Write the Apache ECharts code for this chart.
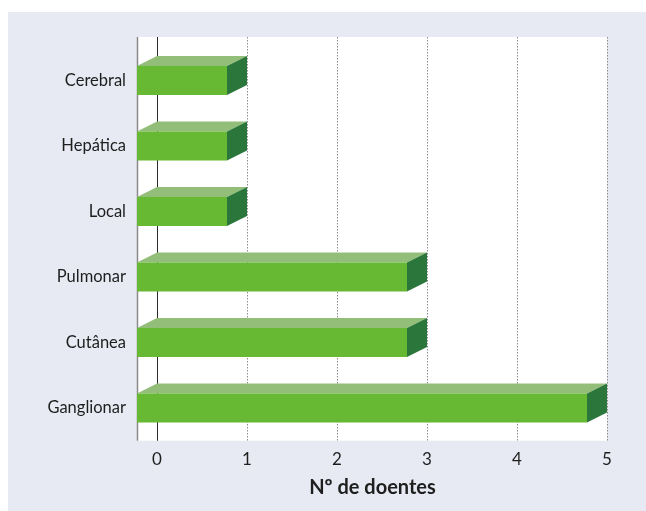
<!DOCTYPE html>
<html>
<head>
<meta charset="utf-8">
<script src="https://cdn.jsdelivr.net/npm/echarts@6/dist/echarts.min.js"></script>
<style>
  html, body { margin: 0; padding: 0; background: #ffffff; }
  #chart { width: 646px; height: 511px; }
</style>
</head>
<body>
<div id="chart"></div>
<script>
// Localização das metástases — número de doentes
const categories = ['Cerebral', 'Hepática', 'Local', 'Pulmonar', 'Cutânea', 'Ganglionar'];
const patients = [1, 1, 1, 3, 3, 5];
const xTicks = [0, 1, 2, 3, 4, 5];

// 3D extrusion of each bar (front face shifted left/down from the back)
const DEPTH_X = 20;
const DEPTH_Y = 10;
const FACE_H = 29;

const COLOR_FRONT = '#67b832';
const COLOR_TOP = '#93be7a';
const COLOR_SIDE = '#2b763a';

const chart = echarts.init(document.getElementById('chart'), null, { renderer: 'canvas' });

function renderFrame(params, api) {
  const cs = params.coordSys;
  const x0 = api.coord([0, 0])[0];
  const top = cs.y - DEPTH_Y - 0.75;
  const bottom = cs.y + cs.height;
  const children = [{
    type: 'rect',
    shape: { x: x0 - DEPTH_X, y: top, width: cs.x + cs.width - (x0 - DEPTH_X), height: bottom - top },
    style: { fill: '#ffffff' }
  }, {
    type: 'line',
    shape: { x1: x0 - DEPTH_X + 0.5, y1: top, x2: x0 - DEPTH_X + 0.5, y2: bottom },
    style: { stroke: '#8a8a8a', lineWidth: 1.5 }
  }];
  xTicks.forEach(function (t) {
    const x = Math.round(api.coord([t, 0])[0]) + 0.5;
    children.push({
      type: 'line',
      shape: { x1: x, y1: top, x2: x, y2: bottom },
      style: t === 0
        ? { stroke: '#2a2a2a', lineWidth: 1 }
        : { stroke: '#8c8c8c', lineWidth: 1, lineDash: [1.5, 1.5] }
    });
  });
  return { type: 'group', children: children };
}

function renderBar(params, api) {
  const v = api.value(0);
  const idx = api.value(1);
  const p0 = api.coord([0, idx]);
  const pv = api.coord([v, idx]);
  const xb0 = p0[0], xbv = pv[0];
  const yc = p0[1];
  const xf0 = xb0 - DEPTH_X, xfv = xbv - DEPTH_X;
  const yt = yc - FACE_H / 2, yb = yc + FACE_H / 2;
  return {
    type: 'group',
    children: [{
      type: 'polygon',
      shape: { points: [[xf0, yt], [xb0, yt - DEPTH_Y], [xbv, yt - DEPTH_Y], [xfv, yt]] },
      style: { fill: COLOR_TOP }
    }, {
      type: 'polygon',
      shape: { points: [[xfv, yt], [xbv, yt - DEPTH_Y], [xbv, yb - DEPTH_Y], [xfv, yb]] },
      style: { fill: COLOR_SIDE }
    }, {
      type: 'rect',
      shape: { x: xf0, y: yt, width: xfv - xf0, height: FACE_H },
      style: { fill: COLOR_FRONT }
    }]
  };
}

chart.setOption({
  animation: false,
  backgroundColor: '#ffffff',
  graphic: [{
    type: 'rect',
    left: 8, top: 12,
    shape: { width: 638, height: 499 },
    style: { fill: '#e7eaf2' },
    z: -10
  }],
  grid: { left: 157, right: 39, top: 47.75, bottom: 70.25, containLabel: false },
  xAxis: {
    type: 'value',
    min: 0, max: 5, interval: 1,
    axisLine: { show: false },
    axisTick: { show: false },
    splitLine: { show: false },
    axisLabel: {
      margin: 10,
      color: '#1e1e1e',
      fontFamily: 'Lato',
      fontSize: 17
    },
    name: 'Nº de doentes',
    nameLocation: 'middle',
    nameGap: 37,
    nameTextStyle: {
      color: '#1e1e1e',
      fontFamily: 'Lato',
      fontWeight: 'bold',
      fontSize: 20,
      padding: [0, 19, 0, 0]
    }
  },
  yAxis: {
    type: 'category',
    data: categories,
    inverse: true,
    axisLine: { show: false },
    axisTick: { show: false },
    splitLine: { show: false },
    axisLabel: {
      margin: 31,
      color: '#1e1e1e',
      fontFamily: 'Lato',
      fontSize: 16.5
    }
  },
  series: [{
    type: 'custom',
    name: 'frame',
    renderItem: renderFrame,
    data: [[0, 0]],
    silent: true,
    z: 1
  }, {
    type: 'custom',
    name: 'Nº de doentes',
    renderItem: renderBar,
    encode: { x: 0, y: 1 },
    data: patients.map(function (v, i) { return [v, i]; }),
    z: 2
  }]
});
</script>
</body>
</html>
